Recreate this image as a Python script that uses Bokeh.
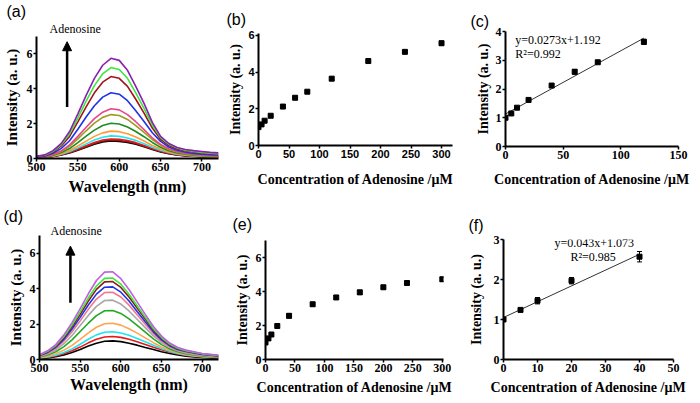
from bokeh.plotting import figure
from bokeh.layouts import column, row
from bokeh.models import (Range1d, FixedTicker, Label, Arrow, NormalHead, Whisker,
                          TeeHead, ColumnDataSource, Title)
from bokeh.embed import file_html
from bokeh.resources import INLINE

# ---------------- data ----------------
wavelength = [500, 510, 520, 530, 540, 550, 560, 570, 580, 590, 600, 610,
              620, 630, 640, 650, 660, 670, 680, 690, 700, 710, 720]

# panel (a) spectra, bottom -> top
a_black  = [0.05,0.07,0.12,0.20,0.32,0.48,0.65,0.82,0.95,1.00,0.98,0.92,0.82,0.68,0.52,0.38,0.28,0.20,0.15,0.12,0.10,0.09,0.08]
a_dred   = [0.05,0.07,0.12,0.21,0.34,0.50,0.68,0.86,1.00,1.05,1.03,0.97,0.86,0.71,0.55,0.40,0.29,0.21,0.16,0.13,0.11,0.10,0.09]
a_red    = [0.05,0.08,0.13,0.22,0.36,0.54,0.73,0.92,1.06,1.12,1.10,1.03,0.91,0.75,0.58,0.42,0.31,0.22,0.17,0.13,0.11,0.10,0.09]
a_cyan   = [0.05,0.08,0.14,0.25,0.40,0.61,0.84,1.06,1.22,1.30,1.27,1.18,1.04,0.85,0.65,0.47,0.34,0.25,0.19,0.15,0.13,0.11,0.10]
a_orange = [0.05,0.08,0.15,0.28,0.46,0.72,1.00,1.27,1.47,1.57,1.54,1.42,1.23,1.00,0.75,0.54,0.38,0.27,0.20,0.16,0.14,0.12,0.11]
a_green  = [0.06,0.09,0.18,0.34,0.57,0.91,1.28,1.63,1.89,2.02,1.98,1.81,1.55,1.25,0.92,0.64,0.45,0.32,0.24,0.19,0.16,0.14,0.13]
a_olive  = [0.06,0.10,0.21,0.40,0.70,1.13,1.59,2.03,2.36,2.52,2.47,2.24,1.89,1.50,1.09,0.75,0.52,0.37,0.28,0.22,0.18,0.16,0.14]
a_pink   = [0.07,0.11,0.23,0.44,0.78,1.27,1.79,2.29,2.66,2.85,2.79,2.52,2.11,1.66,1.19,0.81,0.56,0.40,0.30,0.24,0.20,0.17,0.15]
a_blue   = [0.08,0.14,0.30,0.58,1.02,1.68,2.38,3.03,3.52,3.77,3.69,3.32,2.74,2.12,1.48,0.98,0.66,0.47,0.36,0.29,0.25,0.22,0.19]
a_maroon = [0.10,0.17,0.37,0.72,1.27,2.10,2.96,3.77,4.38,4.70,4.60,4.14,3.40,2.60,1.75,1.10,0.75,0.54,0.43,0.36,0.32,0.28,0.25]
a_lime   = [0.11,0.19,0.41,0.80,1.41,2.33,3.29,4.18,4.86,5.22,5.11,4.60,3.77,2.88,1.92,1.20,0.82,0.60,0.47,0.40,0.35,0.31,0.28]
a_purple = [0.12,0.21,0.45,0.87,1.55,2.56,3.62,4.60,5.35,5.75,5.63,5.06,4.14,3.16,2.07,1.27,0.86,0.63,0.52,0.45,0.40,0.35,0.32]
a_series = [a_black, a_dred, a_red, a_cyan, a_orange, a_green, a_olive, a_pink,
            a_blue, a_maroon, a_lime, a_purple]
a_colors = ["#000000", "#8B1A1A", "#E31A1C", "#22E5F0", "#FF9933", "#1E8C1E",
            "#9C9C1E", "#E8468C", "#1E32E6", "#A0141E", "#3DE63D", "#8C1EB4"]

# panel (d) spectra, bottom -> top
d_black  = [0.06,0.09,0.16,0.26,0.40,0.57,0.76,0.92,1.03,1.05,1.01,0.92,0.81,0.68,0.56,0.44,0.34,0.25,0.19,0.15,0.12,0.09,0.08]
d_red    = [0.07,0.12,0.20,0.33,0.49,0.70,0.94,1.14,1.27,1.30,1.25,1.14,1.00,0.85,0.69,0.55,0.42,0.31,0.23,0.18,0.14,0.12,0.10]
d_cyan   = [0.08,0.14,0.24,0.40,0.60,0.86,1.14,1.39,1.54,1.57,1.50,1.37,1.19,1.00,0.80,0.62,0.46,0.34,0.26,0.20,0.16,0.13,0.11]
d_orange = [0.10,0.18,0.32,0.53,0.80,1.14,1.50,1.82,2.02,2.05,1.94,1.74,1.49,1.22,0.95,0.71,0.52,0.38,0.29,0.22,0.17,0.14,0.12]
d_green  = [0.14,0.25,0.44,0.73,1.11,1.58,2.05,2.48,2.75,2.77,2.60,2.29,1.92,1.54,1.16,0.84,0.60,0.44,0.33,0.26,0.20,0.16,0.14]
d_gray   = [0.17,0.31,0.54,0.89,1.36,1.92,2.49,3.00,3.33,3.35,3.13,2.74,2.27,1.80,1.33,0.95,0.68,0.49,0.37,0.29,0.23,0.19,0.16]
d_pink   = [0.20,0.36,0.63,1.04,1.57,2.18,2.83,3.41,3.78,3.80,3.53,3.07,2.53,1.99,1.46,1.04,0.73,0.54,0.42,0.34,0.27,0.23,0.19]
d_blue   = [0.22,0.40,0.69,1.14,1.72,2.38,3.08,3.69,4.08,4.10,3.80,3.30,2.71,2.13,1.56,1.11,0.78,0.57,0.45,0.37,0.29,0.24,0.20]
d_maroon = [0.24,0.43,0.74,1.23,1.85,2.55,3.30,3.96,4.38,4.40,4.07,3.53,2.90,2.28,1.67,1.19,0.83,0.61,0.48,0.40,0.31,0.26,0.22]
d_lime   = [0.26,0.46,0.79,1.30,1.95,2.69,3.47,4.15,4.58,4.60,4.25,3.68,3.03,2.38,1.74,1.24,0.87,0.64,0.50,0.41,0.32,0.27,0.23]
d_violet = [0.27,0.49,0.84,1.39,2.08,2.87,3.71,4.46,4.93,4.95,4.56,3.95,3.25,2.55,1.86,1.32,0.93,0.68,0.53,0.44,0.34,0.29,0.24]
d_series = [d_black, d_red, d_cyan, d_orange, d_green, d_gray, d_pink, d_blue,
            d_maroon, d_lime, d_violet]
d_colors = ["#000000", "#E31A1C", "#22E5F0", "#FFA54F", "#22A822", "#A8A8A8",
            "#F07890", "#1E32E6", "#8B1A1A", "#3DE63D", "#C060E0"]

# panel (b)/(c) intensity vs concentration
b_conc = [0, 5, 10, 20, 40, 60, 80, 120, 180, 240, 300]
b_int  = [1.00, 1.15, 1.35, 1.62, 2.12, 2.60, 2.93, 3.64, 4.60, 5.10, 5.57]
b_err  = [0.03, 0.03, 0.03, 0.03, 0.06, 0.08, 0.04, 0.09, 0.07, 0.05, 0.12]
c_n = 8
c_fit_x = [0, 120]
c_fit_y = [1.13, 3.77]
c_eq = "y=0.0273x+1.192"
c_r2 = "R\u00b2=0.992"

# panel (e)/(f)
e_conc = [0, 5, 10, 20, 40, 80, 120, 160, 200, 240, 300]
e_int  = [1.00, 1.24, 1.47, 1.97, 2.57, 3.25, 3.65, 3.95, 4.25, 4.50, 4.72]
e_err  = [0.02, 0.03, 0.08, 0.08, 0.13, 0.10, 0.10, 0.12, 0.10, 0.08, 0.12]
f_n = 5
f_fit_x = [0, 40]
f_fit_y = [1.05, 2.63]
f_eq = "y=0.043x+1.073"
f_r2 = "R\u00b2=0.985"

SERIF = "Liberation Serif"
SANS = "Liberation Sans"
YLAB = "Intensity (a. u.)"
XCONC = "Concentration of Adenosine /\u03bcM"


def make_fig(xr, yr, xt, yt, w, h, bl, br, bt, bb, xlabel, xfs, yfs,
             xstand=2, ystand=2, tick_font=SERIF, tick_fs="12px"):
    p = figure(width=w, height=h, title=None,
               x_range=Range1d(*xr), y_range=Range1d(*yr),
               output_backend="svg", toolbar_location=None,
               min_border_left=bl, min_border_right=br,
               min_border_top=bt, min_border_bottom=bb)
    p.outline_line_color = None
    p.grid.visible = False
    p.background_fill_color = "white"
    p.border_fill_color = "white"
    p.xaxis.ticker = FixedTicker(ticks=xt)
    p.yaxis.ticker = FixedTicker(ticks=yt)
    for ax in (p.xaxis[0], p.yaxis[0]):
        ax.axis_line_width = 2
        ax.axis_line_color = "black"
        ax.major_tick_line_width = 1.5
        ax.major_tick_out = 3
        ax.major_tick_in = 0
        ax.minor_tick_line_color = None
        ax.major_label_text_font = tick_font
        ax.major_label_text_font_style = "bold"
        ax.major_label_text_font_size = tick_fs
        ax.major_label_text_color = "black"
        ax.major_label_standoff = 1
        ax.axis_label_text_font = SERIF
        ax.axis_label_text_font_style = "bold"
        ax.axis_label_text_color = "black"
    p.xaxis.axis_label = xlabel
    p.xaxis.axis_label_text_font_size = xfs
    p.xaxis.axis_label_standoff = xstand
    p.yaxis.axis_label = YLAB
    p.yaxis.axis_label_text_font_size = yfs
    p.yaxis.axis_label_standoff = ystand
    return p


def top_text(p, txt, offset, font, size, standoff):
    p.add_layout(Title(text=txt, align="left", offset=offset, text_font=font,
                       text_font_size=size, text_font_style="normal",
                       text_color="black", standoff=standoff), "above")


def spectra(p, series, colors):
    for ys, c in zip(series, colors):
        p.line(wavelength, ys, line_color=c, line_width=1.6)


def arrow(p, ax, ay0, ay1):
    p.add_layout(Arrow(x_start=ax, y_start=ay0, x_end=ax, y_end=ay1,
                       line_width=2.5, line_color="black",
                       end=NormalHead(size=9, fill_color="black",
                                      line_color="black")))


def points(p, xs, ys, es):
    src = ColumnDataSource(dict(x=xs, y=ys,
                                lo=[y - e for y, e in zip(ys, es)],
                                hi=[y + e for y, e in zip(ys, es)]))
    p.add_layout(Whisker(source=src, base="x", upper="hi", lower="lo",
                         line_color="black", line_width=1,
                         upper_head=TeeHead(size=5, line_color="black", line_width=1),
                         lower_head=TeeHead(size=5, line_color="black", line_width=1)))
    p.scatter("x", "y", source=src, marker="square", size=5,
              fill_color="black", line_color="black")


def eq_text(p, txt, x, y):
    p.add_layout(Label(x=x, y=y, text=txt, text_font=SERIF,
                       text_font_size="12px", text_baseline="top",
                       text_color="black"))


# ---------- top row (height 200) ----------
pa = make_fig((500, 720), (0, 7), [500, 550, 600, 650, 700], [0, 2, 4, 6],
              224, 200, 33, 6, 36, 42, "Wavelength (nm)", "16px", "15px",
              xstand=4, ystand=4)
spectra(pa, a_series, a_colors)
arrow(pa, 537, 2.95, 6.7)
top_text(pa, "Adenosine", 13, SERIF, "12px", 2)
top_text(pa, "(a)", -30, SANS, "16px", -3)

pb = make_fig((0, 318), (0, 6.1), [0, 50, 100, 150, 200, 250, 300], [0, 2, 4, 6],
              238, 200, 34, 10, 33, 55, XCONC, "14px", "14px",
              xstand=11, ystand=2, tick_font=SANS, tick_fs="11px")
points(pb, b_conc, b_int, b_err)
top_text(pb, "(b)", -32, SANS, "16px", 11)

pc = make_fig((0, 150), (0, 4), [0, 50, 100, 150], [0, 1, 2, 3, 4],
              237, 200, 43, 21, 31, 54, XCONC, "14px", "14px",
              xstand=10, ystand=2)
pc.line(c_fit_x, c_fit_y, line_color="#333333", line_width=1)
points(pc, b_conc[:c_n], b_int[:c_n], b_err[:c_n])
eq_text(pc, c_eq, 8.5, 3.95)
eq_text(pc, c_r2, 8.5, 3.45)
top_text(pc, "(c)", -35, SANS, "16px", 4)

# ---------- bottom row (height 202) ----------
pd = make_fig((500, 720), (0, 7), [500, 550, 600, 650, 700], [0, 2, 4, 6],
              226, 202, 39, 8, 35, 43, "Wavelength (nm)", "16px", "15px",
              xstand=1, ystand=3)
spectra(pd, d_series, d_colors)
arrow(pd, 538, 3.2, 6.4)
top_text(pd, "Adenosine", 11, SERIF, "12px", -5)
top_text(pd, "(d)", -36, SANS, "16px", -1)

pe = make_fig((0, 302), (0, 7), [0, 50, 100, 150, 200, 250, 300], [0, 2, 4, 6],
              236, 202, 39, 19, 40, 43, XCONC, "14px", "14px",
              xstand=5, ystand=3)
points(pe, e_conc, e_int, e_err)
top_text(pe, "(e)", -33, SANS, "16px", 15)

pf = make_fig((0, 50), (0, 3), [0, 10, 20, 30, 40, 50], [0, 1, 2, 3],
              237, 202, 41, 26, 39, 43, XCONC, "14px", "14px",
              xstand=5, ystand=7)
pf.line(f_fit_x, f_fit_y, line_color="#333333", line_width=1)
points(pf, e_conc[:f_n], e_int[:f_n], e_err[:f_n])
eq_text(pf, f_eq, 15, 3.08)
eq_text(pf, f_r2, 19.7, 2.75)
top_text(pf, "(f)", -35, SANS, "16px", 11)

layout = column(row(column(pa), column(pb), column(pc), spacing=0),
                row(column(pd), column(pe), column(pf), spacing=0), spacing=0)

open("out.html", "w").write(file_html(layout, INLINE))
